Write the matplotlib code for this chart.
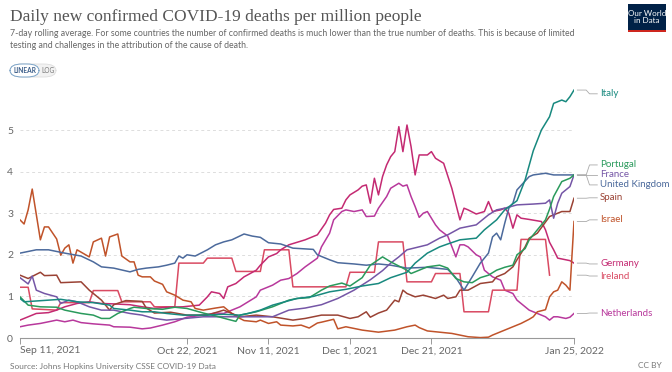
import pandas as pd
import matplotlib.pyplot as plt
import matplotlib.transforms as mtransforms
from matplotlib.patches import FancyBboxPatch, Rectangle

# days since Sep 11, 2021 and daily deaths per million (7-day avg)
start = pd.Timestamp('2021-09-11')

italy_day = [0, 1, 4, 7, 10, 14, 18, 22, 23, 27, 30, 33, 36, 40, 43, 46, 50, 54, 56, 59, 62, 65, 68,
             72, 76, 80, 84, 88, 91, 95, 97, 100, 103, 105, 108, 112, 114, 117, 119, 122, 124, 126,
             128, 130, 131, 133, 134, 135, 136]
italy_val = [0.95, 0.87, 0.89, 0.91, 0.93, 0.87, 0.85, 0.79, 0.71, 0.67, 0.63, 0.63, 0.59, 0.55, 0.55,
             0.55, 0.57, 0.55, 0.59, 0.67, 0.79, 0.87, 0.95, 1.0, 1.11, 1.17, 1.25, 1.31, 1.45, 1.58,
             1.8, 2.04, 2.19, 2.26, 2.36, 2.4, 2.6, 2.84, 3.08, 3.3, 3.8, 4.5, 5.0, 5.32, 5.64, 5.72,
             5.68, 5.8, 5.96]

portugal_day = [0, 2, 5, 9, 11, 15, 18, 20, 22, 24, 27, 28, 31, 35, 38, 41, 45, 48, 51, 53, 54, 58, 62,
                66, 68, 71, 74, 76, 79, 81, 84, 86, 89, 91, 95, 96, 98, 100, 103, 105, 107, 109, 111,
                113, 115, 117, 119, 121, 122, 124, 125, 127, 129, 130, 131, 133, 135, 136]
portugal_val = [0.99, 0.79, 0.75, 0.74, 0.67, 0.59, 0.55, 0.47, 0.47, 0.59, 0.71, 0.74, 0.71, 0.69, 0.74,
                0.71, 0.6, 0.53, 0.45, 0.4, 0.55, 0.63, 0.75, 0.91, 0.95, 0.97, 1.15, 1.25, 1.32, 1.25,
                1.45, 1.75, 1.95, 1.83, 1.63, 1.55, 1.63, 1.71, 1.75, 1.68, 1.43, 1.35, 1.33, 1.45, 1.51,
                1.63, 1.7, 1.75, 2.0, 2.15, 2.36, 2.6, 2.84, 3.1, 3.4, 3.76, 3.84, 3.92]

france_day = [0, 2, 3, 4, 6, 9, 10, 12, 14, 17, 20, 23, 27, 30, 33, 36, 45, 54, 62, 66, 70, 74, 78, 82,
              86, 89, 91, 93, 95, 100, 103, 105, 108, 112, 115, 117, 119, 122, 126, 129, 130, 131, 132,
              133, 135, 136]
france_val = [1.45, 1.3, 1.49, 1.15, 1.07, 0.99, 0.83, 0.91, 0.87, 0.75, 0.67, 0.67, 0.59, 0.55, 0.47,
              0.43, 0.51, 0.51, 0.51, 0.67, 0.72, 0.8, 0.95, 1.15, 1.4, 1.62, 1.8, 1.95, 2.12, 2.24, 2.4,
              2.48, 2.64, 2.72, 2.96, 3.08, 3.12, 3.2, 3.22, 3.24, 3.32, 2.88, 3.24, 3.48, 3.64, 3.92]

uk_day = [0, 4, 7, 11, 15, 18, 20, 23, 27, 29, 31, 34, 36, 38, 39, 40, 41, 43, 46, 48, 50, 52, 55, 57,
          59, 61, 64, 67, 72, 73, 76, 78, 82, 85, 88, 91, 95, 100, 105, 107, 109, 111, 113, 115, 116,
          117, 118, 119, 120, 121, 122, 125, 126, 129, 131, 136]
uk_val = [2.04, 2.12, 2.12, 2.04, 1.97, 1.83, 1.71, 1.68, 1.59, 1.65, 1.68, 1.71, 1.75, 1.8, 1.97, 1.92,
          2.0, 1.97, 2.12, 2.24, 2.31, 2.36, 2.5, 2.45, 2.42, 2.29, 2.26, 2.16, 2.13, 2.0, 1.88, 1.81,
          1.78, 1.75, 1.78, 1.75, 1.68, 1.7, 1.65, 1.45, 1.15, 1.47, 1.8, 2.04, 2.43, 2.52, 2.36, 2.76,
          3.12, 3.24, 3.56, 3.88, 3.92, 3.96, 3.92, 3.92]

spain_day = [0, 2, 5, 6, 9, 10, 15, 17, 20, 22, 23, 26, 30, 31, 33, 37, 41, 46, 50, 54, 58, 62, 67, 70,
             74, 78, 81, 83, 85, 86, 88, 90, 92, 93, 94, 95, 97, 99, 102, 104, 105, 107, 108, 110, 113,
             116, 117, 119, 121, 122, 124, 125, 127, 130, 133, 135, 136]
spain_val = [1.51, 1.43, 1.58, 1.5, 1.51, 1.33, 1.35, 1.15, 0.91, 0.67, 0.8, 0.9, 0.88, 0.72, 0.6, 0.62,
             0.55, 0.55, 0.67, 0.51, 0.55, 0.51, 0.43, 0.47, 0.55, 0.55, 0.47, 0.51, 0.63, 0.5, 0.6,
             0.67, 0.91, 0.87, 1.15, 1.07, 0.99, 1.03, 0.95, 1.03, 0.95, 0.99, 1.15, 1.15, 1.31, 1.35,
             1.47, 1.55, 1.71, 1.88, 2.19, 2.4, 2.52, 2.92, 3.04, 3.04, 3.36]

israel_day = [0, 1, 2, 3, 5, 6, 7, 9, 10, 11, 12, 13, 14, 17, 18, 20, 21, 22, 24, 25, 27, 28, 29, 30,
              32, 33, 35, 36, 38, 40, 42, 43, 45, 48, 50, 52, 54, 55, 58, 59, 61, 63, 64, 67, 69, 71,
              73, 74, 77, 78, 80, 84, 88, 92, 95, 97, 98, 100, 103, 106, 108, 110, 113, 115, 116, 118,
              121, 123, 125, 126, 127, 129, 130, 131, 132, 133, 134, 135, 136]
israel_val = [2.84, 2.74, 3.08, 3.58, 2.36, 2.67, 2.67, 2.38, 1.99, 2.16, 2.24, 1.8, 2.12, 1.95, 2.31,
              2.4, 1.97, 2.43, 2.5, 1.97, 1.83, 1.83, 1.51, 1.47, 1.47, 1.37, 1.29, 1.11, 1.03, 0.91,
              0.87, 0.71, 0.67, 0.72, 0.75, 0.59, 0.47, 0.42, 0.39, 0.43, 0.35, 0.39, 0.31, 0.29, 0.31,
              0.24, 0.36, 0.38, 0.45, 0.22, 0.27, 0.19, 0.14, 0.19, 0.27, 0.31, 0.25, 0.17, 0.14, 0.11,
              0.07, 0.03, 0.01, 0.02, 0.07, 0.15, 0.27, 0.35, 0.45, 0.51, 0.63, 0.68, 0.99, 1.11, 1.15,
              1.35, 1.27, 1.15, 2.8]

germany_day = [0, 4, 7, 9, 11, 14, 17, 20, 23, 27, 30, 33, 36, 40, 44, 46, 47, 49, 50, 51, 53, 55, 58,
               59, 61, 63, 64, 66, 68, 70, 73, 75, 76, 77, 79, 80, 81, 83, 84, 85, 86, 87, 88, 89, 90,
               91, 92, 93, 94, 95, 96, 97, 98, 100, 101, 102, 104, 105, 106, 108, 109, 110, 112, 114,
               115, 116, 118, 119, 120, 121, 122, 123, 125, 128, 129, 130, 131, 132, 134, 135, 136]
germany_val = [0.43, 0.59, 0.61, 0.67, 0.75, 0.83, 0.87, 0.83, 0.82, 0.8, 0.75, 0.71, 0.74, 0.75, 0.79,
               0.99, 1.11, 1.07, 0.95, 1.23, 1.31, 1.47, 1.63, 1.75, 1.95, 2.03, 2.12, 2.24, 2.3, 2.36,
               2.48, 2.76, 2.96, 3.09, 3.12, 3.32, 3.44, 3.56, 3.65, 3.68, 3.24, 3.84, 3.44, 3.88, 4.16,
               4.36, 4.48, 5.08, 4.48, 5.12, 4.6, 3.92, 4.4, 4.4, 4.48, 4.32, 4.2, 3.9, 3.6, 2.84, 3.12,
               3.08, 2.98, 3.04, 3.28, 3.04, 3.08, 3.12, 3.0, 2.64, 2.96, 2.88, 2.85, 2.8, 2.6, 2.3,
               2.12, 1.92, 1.88, 1.86, 1.8]

ireland_day = [0, 2, 3, 9, 10, 17, 18, 24, 25, 32, 33, 38, 39, 45, 46, 52, 53, 59, 60, 66, 67, 80, 81,
               87, 88, 94, 95, 101, 102, 108, 109, 115, 116, 122, 123, 129, 130]
ireland_val = [1.22, 1.22, 0.7, 0.67, 0.85, 0.85, 1.14, 1.14, 0.87, 0.87, 0.75, 0.75, 1.8, 1.8, 1.92,
               1.92, 1.6, 1.6, 2.12, 2.12, 1.23, 1.23, 1.58, 1.58, 2.31, 2.31, 1.35, 1.35, 1.55, 1.55,
               0.63, 0.63, 1.15, 1.15, 2.37, 2.37, 1.51]

netherlands_day = [0, 2, 5, 9, 11, 13, 15, 18, 22, 23, 27, 30, 32, 35, 38, 41, 45, 48, 50, 54, 56, 58,
                   59, 62, 64, 66, 68, 70, 73, 74, 76, 77, 79, 80, 82, 84, 85, 87, 88, 90, 91, 93, 94,
                   95, 96, 97, 98, 99, 100, 102, 103, 105, 107, 108, 109, 110, 112, 113, 114, 116, 118,
                   119, 121, 122, 124, 125, 127, 129, 130, 131, 132, 134, 135, 136]
netherlands_val = [0.27, 0.31, 0.35, 0.43, 0.39, 0.43, 0.37, 0.34, 0.31, 0.27, 0.26, 0.22, 0.24, 0.31,
                   0.39, 0.5, 0.55, 0.6, 0.59, 0.75, 0.87, 0.99, 1.15, 1.27, 1.39, 1.43, 1.55, 1.71,
                   1.92, 2.19, 2.52, 2.84, 3.04, 3.08, 3.04, 3.08, 2.92, 2.93, 3.12, 3.4, 3.6, 3.72,
                   3.65, 3.68, 3.4, 3.16, 2.9, 3.0, 3.04, 2.72, 2.6, 2.45, 1.95, 2.24, 2.24, 2.19, 2.0,
                   1.95, 1.63, 1.47, 1.39, 1.15, 1.07, 0.91, 0.75, 0.67, 0.59, 0.51, 0.43, 0.51, 0.51,
                   0.47, 0.5, 0.59]

countries = ['Italy', 'Portugal', 'France', 'United Kingdom', 'Spain', 'Israel',
             'Germany', 'Ireland', 'Netherlands']
series_days = [italy_day, portugal_day, france_day, uk_day, spain_day, israel_day,
               germany_day, ireland_day, netherlands_day]
series_vals = [italy_val, portugal_val, france_val, uk_val, spain_val, israel_val,
               germany_val, ireland_val, netherlands_val]
colors = ['#18897f', '#2a9a5c', '#7556a6', '#4c6a9c', '#9a4234', '#c0532a',
          '#c42a72', '#d94a62', '#b8389c']
label_y = [5.87, 4.16, 3.92, 3.68, 3.37, 2.84, 1.78, 1.49, 0.60]

tick_days = [0, 41, 61, 81, 101, 136]
tick_labels = ['Sep 11, 2021', 'Oct 22, 2021', 'Nov 11, 2021', 'Dec 1, 2021', 'Dec 21, 2021',
               'Jan 25, 2022']

plt.rcParams['font.family'] = ['Lato', 'DejaVu Sans']

fig = plt.figure(figsize=(6.72, 3.72), dpi=100)
ax = fig.add_axes([20 / 672, 34 / 372, 554 / 672, 249.6 / 372])

for name, d, v, c in zip(countries[::-1], series_days[::-1], series_vals[::-1], colors[::-1]):
    dates = start + pd.to_timedelta(d, unit='D')
    ax.plot(dates, v, color=c, lw=1.1, solid_joinstyle='round')

ax.set_xlim(start, start + pd.Timedelta(days=136))
ax.set_ylim(0, 6.0)
ax.set_yticks([0, 1, 2, 3, 4, 5])
ax.set_yticklabels(['0', '1', '2', '3', '4', '5'])
ax.set_xticks([start + pd.Timedelta(days=t) for t in tick_days])
ax.set_xticklabels(tick_labels)
ax.get_xticklabels()[0].set_ha('left')

for s in ['top', 'right', 'left']:
    ax.spines[s].set_visible(False)
ax.spines['bottom'].set_color('#999999')
ax.spines['bottom'].set_linewidth(0.8)
ax.tick_params(axis='y', length=0, pad=5, labelsize=7.5, labelcolor='#666666')
ax.tick_params(axis='x', length=4, width=0.7, color='#999999', pad=2, labelsize=7.5,
               labelcolor='#666666')
for yv in [1, 2, 3, 4, 5]:
    ax.axhline(yv, color='#dddddd', lw=0.7, ls=(0, (3, 3)), zorder=0)

# right-side labels with connectors
trans = mtransforms.blended_transform_factory(ax.transAxes, ax.transData)
for name, v, c, ly in zip(countries, series_vals, colors, label_y):
    yend = v[-1]
    ax.plot([1.006, 1.022, 1.028, 1.042], [yend, yend, ly, ly], transform=trans,
            color='#aaaaaa', lw=0.6, clip_on=False)
    ax.text(1.047, ly, name, transform=trans, color=c, fontsize=7, va='center', ha='left')

# header
fig.text(10 / 672, 1 - 17 / 372, 'Daily new confirmed COVID-19 deaths per million people',
         family='Liberation Serif', fontsize=12.5, color='#555555', va='center', ha='left')
fig.text(10 / 672, 1 - 34 / 372,
         '7-day rolling average. For some countries the number of confirmed deaths is much lower '
         'than the true number of deaths. This is because of limited',
         fontsize=6.3, color='#666666', va='center', ha='left')
fig.text(10 / 672, 1 - 45 / 372,
         'testing and challenges in the attribution of the cause of death.',
         fontsize=6.3, color='#666666', va='center', ha='left')

# LINEAR / LOG toggle
fig.add_artist(FancyBboxPatch((10 / 672, 1 - 77 / 372), 46 / 672, 13 / 372,
                              boxstyle='round,pad=0,rounding_size=0.018', transform=fig.transFigure,
                              facecolor='#f2f2f2', edgecolor='#dddddd', lw=0.6))
fig.add_artist(FancyBboxPatch((10 / 672, 1 - 77 / 372), 29 / 672, 13 / 372,
                              boxstyle='round,pad=0,rounding_size=0.018', transform=fig.transFigure,
                              facecolor='white', edgecolor='#7aa3c8', lw=0.7))
fig.text(24.5 / 672, 1 - 70.5 / 372, 'LINEAR', fontsize=4.8, color='#3c5f8a', ha='center',
         va='center', weight='bold')
fig.text(47.5 / 672, 1 - 70.5 / 372, 'LOG', fontsize=4.8, color='#777777', ha='center', va='center')

# logo
fig.add_artist(Rectangle((628 / 672, 1 - 32 / 372), 38 / 672, 28 / 372, transform=fig.transFigure,
                         facecolor='#002147', edgecolor='none'))
fig.add_artist(Rectangle((628 / 672, 1 - 32 / 372), 38 / 672, 2.5 / 372, transform=fig.transFigure,
                         facecolor='#ce261e', edgecolor='none'))
fig.text(647 / 672, 1 - 17 / 372, 'Our World\nin Data', fontsize=5.8, color='white', ha='center',
         va='center', linespacing=1.0)

# footer
fig.text(10 / 672, 1 - 366 / 372, 'Source: Johns Hopkins University CSSE COVID-19 Data',
         fontsize=6, color='#777777', va='center', ha='left')
fig.text(662 / 672, 1 - 366 / 372, 'CC BY', fontsize=6, color='#777777', va='center', ha='right')

fig.savefig('out.png', dpi=100)
